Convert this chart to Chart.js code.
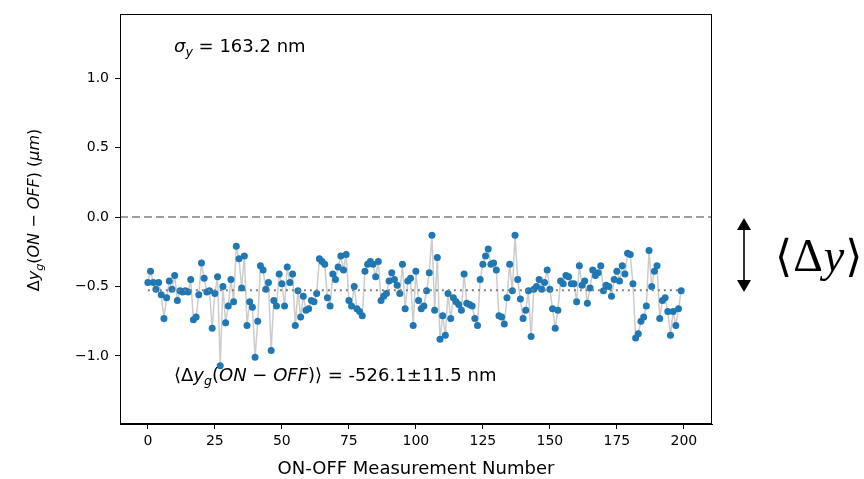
<!DOCTYPE html>
<html>
<head>
<meta charset="utf-8">
<script src="https://cdn.jsdelivr.net/npm/chart.js@4.4.1/dist/chart.umd.min.js"></script>
<style>
  html, body { margin: 0; padding: 0; background: #fff; }
  canvas { display: block; }
</style>
</head>
<body>
<canvas id="myChart" width="864" height="479"></canvas>
<script>
// Δy_g(ON-OFF) de cada medición, en µm
const dyValues = [
  -0.47, -0.39, -0.47, -0.52, -0.47, -0.56, -0.73, -0.58, -0.46, -0.52,
  -0.42, -0.60, -0.53, -0.54, -0.53, -0.54, -0.45, -0.74, -0.72, -0.56,
  -0.33, -0.44, -0.54, -0.53, -0.80, -0.55, -0.43, -1.07, -0.50, -0.76,
  -0.64, -0.45, -0.61, -0.21, -0.30, -0.51, -0.28, -0.78, -0.61, -0.65,
  -1.01, -0.75, -0.35, -0.38, -0.52, -0.47, -0.96, -0.60, -0.64, -0.41,
  -0.48, -0.64, -0.36, -0.47, -0.41, -0.78, -0.53, -0.72, -0.57, -0.67,
  -0.66, -0.60, -0.61, -0.55, -0.30, -0.32, -0.34, -0.58, -0.64, -0.41,
  -0.45, -0.36, -0.28, -0.38, -0.27, -0.60, -0.64, -0.50, -0.66, -0.68,
  -0.71, -0.39, -0.34, -0.32, -0.34, -0.43, -0.32, -0.60, -0.57, -0.55,
  -0.46, -0.40, -0.45, -0.49, -0.55, -0.34, -0.66, -0.46, -0.44, -0.78,
  -0.39, -0.60, -0.66, -0.64, -0.53, -0.40, -0.13, -0.67, -0.29, -0.88,
  -0.71, -0.85, -0.55, -0.73, -0.58, -0.61, -0.63, -0.67, -0.41, -0.62,
  -0.63, -0.64, -0.73, -0.78, -0.45, -0.34, -0.28, -0.23, -0.34, -0.33,
  -0.38, -0.71, -0.72, -0.77, -0.58, -0.34, -0.53, -0.13, -0.45, -0.59,
  -0.73, -0.67, -0.53, -0.86, -0.52, -0.50, -0.45, -0.52, -0.47, -0.38,
  -0.52, -0.66, -0.80, -0.67, -0.46, -0.48, -0.42, -0.43, -0.48, -0.48,
  -0.61, -0.35, -0.49, -0.46, -0.62, -0.51, -0.38, -0.42, -0.40, -0.35,
  -0.53, -0.49, -0.50, -0.57, -0.45, -0.39, -0.46, -0.35, -0.41, -0.26,
  -0.27, -0.48, -0.87, -0.84, -0.75, -0.72, -0.64, -0.24, -0.50, -0.39,
  -0.35, -0.73, -0.60, -0.58, -0.68, -0.85, -0.68, -0.78, -0.66, -0.53
];
const measurementNumbers = dyValues.map((_, i) => i);
const meanDy = -0.5261;
const xTicks = [0, 25, 50, 75, 100, 125, 150, 175, 200];
const yTicks = [-1.0, -0.5, 0.0, 0.5, 1.0];
const xRange = [-10.4, 210.5];
const yRange = [-1.49, 1.46];

const points = measurementNumbers.map((n, i) => ({ x: n, y: dyValues[i] }));
const lastN = measurementNumbers[measurementNumbers.length - 1];

// texto con subíndices / cursivas estilo mathtext
function drawRich(ctx, parts, x, y, size, align) {
  const fontFor = p => (p.it ? 'italic ' : '') + (p.sub ? size * 0.7 : size) + 'px "DejaVu Sans"';
  let total = 0;
  parts.forEach(p => { ctx.font = fontFor(p); p.w = ctx.measureText(p.t).width; total += p.w; });
  let cx = align === 'center' ? x - total / 2 : x;
  ctx.textAlign = 'left';
  ctx.textBaseline = 'alphabetic';
  parts.forEach(p => {
    ctx.font = fontFor(p);
    ctx.fillText(p.t, cx, y + (p.sub ? size * 0.22 : 0));
    cx += p.w;
  });
}

const textPlugin = {
  id: 'textos',
  afterDraw(chart) {
    const ctx = chart.ctx;
    const a = chart.chartArea;
    ctx.save();
    // marco
    ctx.strokeStyle = '#000';
    ctx.lineWidth = 1;
    ctx.strokeRect(Math.round(a.left) + 0.5, Math.round(a.top) + 0.5,
      Math.round(a.right - a.left) - 1, Math.round(a.bottom - a.top) - 1);

    ctx.fillStyle = '#000';
    drawRich(ctx, [
      { t: 'σ', it: true }, { t: 'y', it: true, sub: true }, { t: ' = 163.2 nm' }
    ], 174, 52, 18);

    drawRich(ctx, [
      { t: '⟨Δ' }, { t: 'y', it: true }, { t: 'g', it: true, sub: true }, { t: '(' },
      { t: 'ON', it: true }, { t: ' − ' }, { t: 'OFF', it: true },
      { t: ')⟩ = -526.1±11.5 nm' }
    ], 174, 381, 18);

    // títulos de ejes
    drawRich(ctx, [{ t: 'ON-OFF Measurement Number' }], (a.left + a.right) / 2, 474, 18, 'center');
    ctx.save();
    ctx.translate(39, 210);
    ctx.rotate(-Math.PI / 2);
    drawRich(ctx, [
      { t: 'Δ' }, { t: 'y', it: true }, { t: 'g', it: true, sub: true }, { t: '(' },
      { t: 'ON', it: true }, { t: ' − ' }, { t: 'OFF', it: true }, { t: ') (' },
      { t: 'μm', it: true }, { t: ')' }
    ], 0, 0, 16, 'center');
    ctx.restore();

    // flecha y ⟨Δy⟩ a la derecha
    const ax = 744, y1 = 218, y2 = 292;
    ctx.lineWidth = 1.6;
    ctx.beginPath(); ctx.moveTo(ax, y1 + 6); ctx.lineTo(ax, y2 - 6); ctx.stroke();
    ctx.beginPath(); ctx.moveTo(ax, y1); ctx.lineTo(ax - 7, y1 + 12); ctx.lineTo(ax + 7, y1 + 12); ctx.closePath(); ctx.fill();
    ctx.beginPath(); ctx.moveTo(ax, y2); ctx.lineTo(ax - 7, y2 - 12); ctx.lineTo(ax + 7, y2 - 12); ctx.closePath(); ctx.fill();

    let cx = 775;
    const by = 271;
    const segs = [
      { t: '⟨', f: '44px "DejaVu Serif", "DejaVu Sans"' },
      { t: 'Δ', f: '46px "Liberation Serif"' },
      { t: 'y', f: 'italic 46px "Liberation Serif"' },
      { t: '⟩', f: '44px "DejaVu Serif", "DejaVu Sans"' }
    ];
    segs.forEach(s => { ctx.font = s.f; ctx.fillText(s.t, cx, by); cx += ctx.measureText(s.t).width + 1; });
    ctx.restore();
  }
};

const tickFont = { family: 'DejaVu Sans', size: 14 };

new Chart(document.getElementById('myChart'), {
  type: 'scatter',
  data: {
    datasets: [
      {
        data: [{ x: 0, y: meanDy }, { x: lastN, y: meanDy }],
        showLine: true,
        borderColor: '#7f7f7f',
        borderWidth: 2,
        borderDash: [2, 4],
        pointRadius: 0,
        order: 0
      },
      {
        data: points,
        showLine: true,
        borderColor: '#cccccc',
        borderWidth: 1.5,
        pointRadius: 3.5,
        pointBackgroundColor: '#1f77b4',
        pointBorderWidth: 0,
        order: 1
      },
      {
        data: [{ x: xRange[0], y: 0 }, { x: xRange[1], y: 0 }],
        showLine: true,
        borderColor: '#808080',
        borderWidth: 1.5,
        borderDash: [8, 4],
        pointRadius: 0,
        order: 2
      }
    ]
  },
  options: {
    responsive: false,
    animation: false,
    layout: { padding: { top: 12, right: 152, left: 0, bottom: 0 } },
    plugins: { legend: { display: false }, tooltip: { enabled: false } },
    scales: {
      x: {
        type: 'linear',
        min: xRange[0],
        max: xRange[1],
        afterBuildTicks: s => { s.ticks = xTicks.map(v => ({ value: v })); },
        afterFit: s => { s.height = 55; },
        ticks: { font: tickFont, color: '#000', padding: 4, maxRotation: 0, autoSkip: false, callback: v => String(v) },
        grid: { drawOnChartArea: false, drawTicks: true, tickLength: 5, color: '#000' },
        border: { color: '#000', width: 1 }
      },
      y: {
        type: 'linear',
        min: yRange[0],
        max: yRange[1],
        afterBuildTicks: s => { s.ticks = yTicks.map(v => ({ value: v })); },
        afterFit: s => { s.width = 120; },
        ticks: { font: tickFont, color: '#000', padding: 6, autoSkip: false,
          callback: v => (v < 0 ? '−' : '') + Math.abs(v).toFixed(1) },
        grid: { drawOnChartArea: false, drawTicks: true, tickLength: 5, color: '#000' },
        border: { color: '#000', width: 1 }
      }
    }
  },
  plugins: [textPlugin]
});
</script>
</body>
</html>
